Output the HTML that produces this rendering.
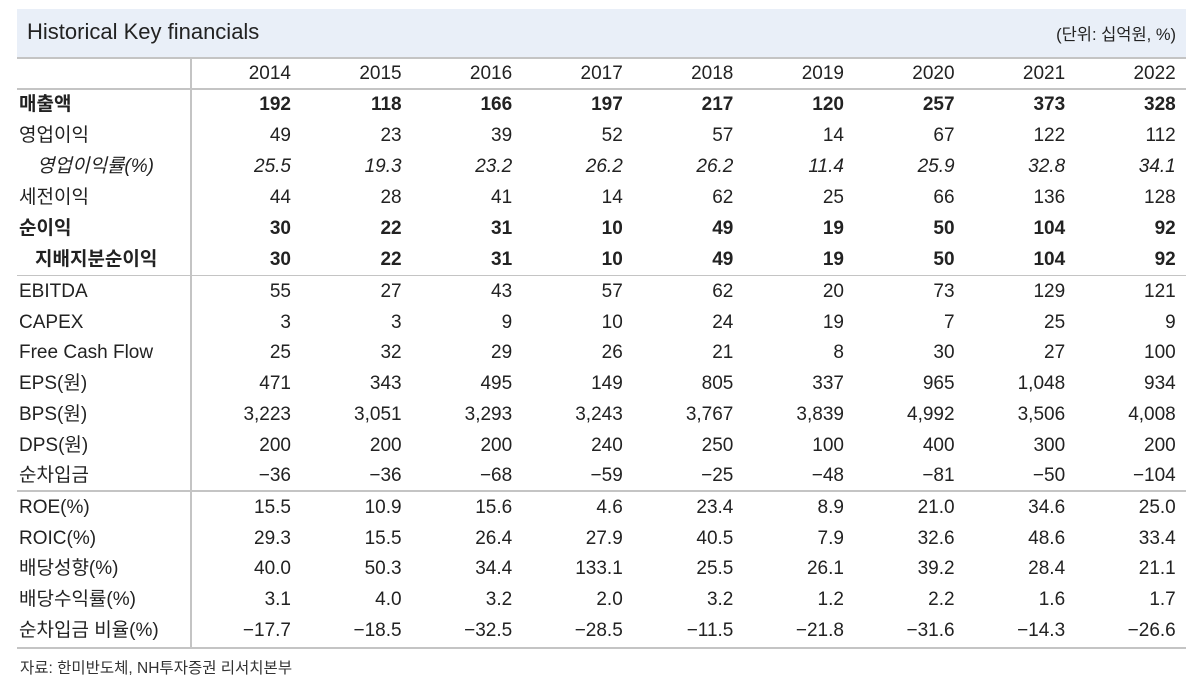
<!DOCTYPE html>
<html><head><meta charset="utf-8"><style>
body{margin:0;width:1200px;height:700px;background:#fff;font-family:"Liberation Sans","Noto Sans CJK KR",sans-serif;color:#222;position:relative;overflow:hidden}
.title{position:absolute;left:17px;top:9px;width:1169px;height:48px;background:#e9eff8}
.title .t{position:absolute;left:10px;top:10px;font-size:22px}
.title .u{position:absolute;right:10px;top:12px;font-size:16.5px}
.hl{position:absolute;left:17px;width:1169px;background:#c4c4c4}
.vl{position:absolute;left:190px;top:58px;width:2px;height:590px;background:#c4c4c4}
.r{position:absolute;left:17px;display:grid;grid-template-columns:174px 100px repeat(8,110.6px);font-size:19px;height:31px;line-height:31px}
.r span{text-align:right}
.r span:first-child{text-align:left;padding-left:2px}
.b{font-weight:bold}
.i span{font-style:italic}
.i span:first-child{padding-left:20px}
.ind span:first-child{padding-left:18px}
.src{position:absolute;left:20px;top:656px;font-size:15.5px;color:#333}
</style></head><body>
<div class="title"><div class="t">Historical Key financials</div><div class="u">(단위: 십억원, %)</div></div>
<div class="hl" style="top:57px;height:2px"></div>
<div class="hl" style="top:88px;height:2px"></div>
<div class="hl" style="top:275px;height:1px"></div>
<div class="hl" style="top:490px;height:2px"></div>
<div class="hl" style="top:647px;height:2px"></div>
<div class="vl"></div>
<div class="r" style="top:58px"><span></span><span>2014</span><span>2015</span><span>2016</span><span>2017</span><span>2018</span><span>2019</span><span>2020</span><span>2021</span><span>2022</span></div>
<div class="r b" style="top:89px"><span>매출액</span><span>192</span><span>118</span><span>166</span><span>197</span><span>217</span><span>120</span><span>257</span><span>373</span><span>328</span></div>
<div class="r" style="top:120px"><span>영업이익</span><span>49</span><span>23</span><span>39</span><span>52</span><span>57</span><span>14</span><span>67</span><span>122</span><span>112</span></div>
<div class="r i" style="top:151px"><span>영업이익률(%)</span><span>25.5</span><span>19.3</span><span>23.2</span><span>26.2</span><span>26.2</span><span>11.4</span><span>25.9</span><span>32.8</span><span>34.1</span></div>
<div class="r" style="top:182px"><span>세전이익</span><span>44</span><span>28</span><span>41</span><span>14</span><span>62</span><span>25</span><span>66</span><span>136</span><span>128</span></div>
<div class="r b" style="top:213px"><span>순이익</span><span>30</span><span>22</span><span>31</span><span>10</span><span>49</span><span>19</span><span>50</span><span>104</span><span>92</span></div>
<div class="r b ind" style="top:244px"><span>지배지분순이익</span><span>30</span><span>22</span><span>31</span><span>10</span><span>49</span><span>19</span><span>50</span><span>104</span><span>92</span></div>
<div class="r" style="top:276px"><span>EBITDA</span><span>55</span><span>27</span><span>43</span><span>57</span><span>62</span><span>20</span><span>73</span><span>129</span><span>121</span></div>
<div class="r" style="top:306.7px"><span>CAPEX</span><span>3</span><span>3</span><span>9</span><span>10</span><span>24</span><span>19</span><span>7</span><span>25</span><span>9</span></div>
<div class="r" style="top:337.4px"><span>Free Cash Flow</span><span>25</span><span>32</span><span>29</span><span>26</span><span>21</span><span>8</span><span>30</span><span>27</span><span>100</span></div>
<div class="r" style="top:368.1px"><span>EPS(원)</span><span>471</span><span>343</span><span>495</span><span>149</span><span>805</span><span>337</span><span>965</span><span>1,048</span><span>934</span></div>
<div class="r" style="top:398.8px"><span>BPS(원)</span><span>3,223</span><span>3,051</span><span>3,293</span><span>3,243</span><span>3,767</span><span>3,839</span><span>4,992</span><span>3,506</span><span>4,008</span></div>
<div class="r" style="top:429.5px"><span>DPS(원)</span><span>200</span><span>200</span><span>200</span><span>240</span><span>250</span><span>100</span><span>400</span><span>300</span><span>200</span></div>
<div class="r" style="top:460.2px"><span>순차입금</span><span>−36</span><span>−36</span><span>−68</span><span>−59</span><span>−25</span><span>−48</span><span>−81</span><span>−50</span><span>−104</span></div>
<div class="r" style="top:492px"><span>ROE(%)</span><span>15.5</span><span>10.9</span><span>15.6</span><span>4.6</span><span>23.4</span><span>8.9</span><span>21.0</span><span>34.6</span><span>25.0</span></div>
<div class="r" style="top:522.7px"><span>ROIC(%)</span><span>29.3</span><span>15.5</span><span>26.4</span><span>27.9</span><span>40.5</span><span>7.9</span><span>32.6</span><span>48.6</span><span>33.4</span></div>
<div class="r" style="top:553.4px"><span>배당성향(%)</span><span>40.0</span><span>50.3</span><span>34.4</span><span>133.1</span><span>25.5</span><span>26.1</span><span>39.2</span><span>28.4</span><span>21.1</span></div>
<div class="r" style="top:584.1px"><span>배당수익률(%)</span><span>3.1</span><span>4.0</span><span>3.2</span><span>2.0</span><span>3.2</span><span>1.2</span><span>2.2</span><span>1.6</span><span>1.7</span></div>
<div class="r" style="top:614.8px"><span>순차입금 비율(%)</span><span>−17.7</span><span>−18.5</span><span>−32.5</span><span>−28.5</span><span>−11.5</span><span>−21.8</span><span>−31.6</span><span>−14.3</span><span>−26.6</span></div>
<div class="src">자료: 한미반도체, NH투자증권 리서치본부</div>
</body></html>
